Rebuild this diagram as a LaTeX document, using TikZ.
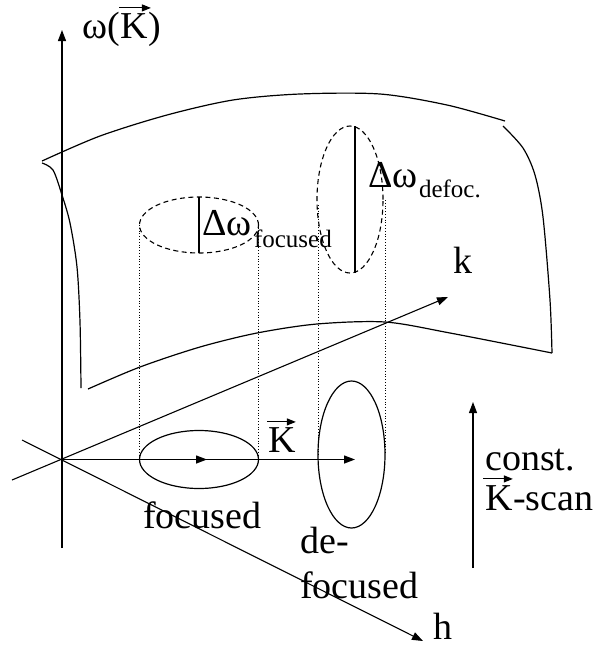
\documentclass[tikz,border=0pt]{standalone}
\usepackage{fontspec}
\setmainfont{Liberation Serif}
\usetikzlibrary{arrows.meta}
\begin{document}
\begin{tikzpicture}[x=1pt,y=-1pt,
  surf/.style={line width=1.2pt},
  axis/.style={line width=1.3pt,-{Triangle[length=11pt,width=8pt]}},
  thinaxis/.style={line width=1.1pt,-{Triangle[length=11pt,width=8pt]}},
  dotline/.style={line width=0.8pt,dotted},
  dashline/.style={line width=1.1pt,dash pattern=on 5pt off 3.5pt},
  solidline/.style={line width=1.2pt},
  lab/.style={anchor=base west,inner sep=0pt,font=\fontsize{38}{40}\selectfont},
  sub/.style={anchor=base west,inner sep=0pt,font=\fontsize{25}{27}\selectfont},
  vec/.style={line width=1.1pt,-{Triangle[length=9pt,width=7pt]}}]
\useasboundingbox[fill=white] (0,0) rectangle (597,649);

% surface
\draw[surf] plot[smooth] coordinates {(42,161) (100,136) (167,115) (233,100) (300,94) (380,94) (447,105) (505,121)};
\draw[surf] plot[smooth] coordinates {(503,126) (523,148) (535,175) (543,217) (550,300) (552,353)};
\draw[surf] plot[smooth] coordinates {(88,389) (140,367) (200,347) (257,333) (317,324) (385,322) (450,333) (552,353)};
\draw[surf] plot[smooth] coordinates {(42,163) (53,170) (62,195) (70,223) (77,267) (80,322) (81,388)};

% axes
\coordinate (O) at (62,459.5);
\coordinate (vb) at (62,548);
\coordinate (vt) at (62,30);
\coordinate (Kend) at (355,459.5);
\coordinate (Kmid) at (207,459.5);
\coordinate (kst) at (12,480);
\coordinate (kend) at (448,297);
\coordinate (hst) at (22,440);
\coordinate (hend) at (423,641);
\draw[axis] (vb) -- (vt);
\draw[axis] (O) -- (Kend);
\draw[axis] (O) -- (Kmid);
\draw[thinaxis] (kst) -- (kend);
\draw[thinaxis] (hst) -- (hend);

% focused cylinder
\draw[solidline] (199,459.5) ellipse [x radius=59.5pt, y radius=29pt];
\draw[dashline] (199,225) ellipse [x radius=59.5pt, y radius=28pt];
\draw[dotline] (139.5,225) -- (139.5,459.5);
\draw[dotline] (258.5,225) -- (258.5,459.5);
\coordinate (wf1) at (199,197);
\coordinate (wf2) at (199,253);
\draw[solidline] (wf1) -- (wf2);

% defocused cylinder
\draw[solidline] (351.5,454.5) ellipse [x radius=33.5pt, y radius=73.5pt];
\draw[dashline] (350,199.5) ellipse [x radius=33pt, y radius=73.5pt];
\draw[dotline] (318,205) -- (318,454.5);
\draw[dotline] (385,200) -- (385,454.5);
\coordinate (wd1) at (355,126);
\coordinate (wd2) at (355,273);
\draw[solidline] (wd1) -- (wd2);

% const K-scan arrow
\coordinate (cs1) at (473,568);
\coordinate (cs2) at (473,402);
\draw[thinaxis] (cs1) -- (cs2);

% labels
\node[lab] (wl) at (82,38.5) {ω(};
\node[lab] (wK) at (wl.base east) {K};
\node[lab] (wr) at (wK.base east) {)};
\draw[vec] ([shift={(-1,-5.5)}]wK.north west) -- ([shift={(3,-5.5)}]wK.north east);

\node[lab] (dwf) at (202,235) {Δω};
\node[sub] (dwfs) at ([shift={(2,12)}]dwf.base east) {focused};

\node[lab] (dwd) at (368,187) {Δω};
\node[sub] (dwds) at ([shift={(1,10)}]dwd.base east) {defoc.};

\node[lab] (kl) at (453,273) {k};
\node[lab] (hl) at (433,639) {h};

\node[lab] (Kax) at (268,452) {K};
\draw[vec] ([shift={(-1,-5)}]Kax.north west) -- ([shift={(0,-5)}]Kax.north east);

\node[lab] (foc) at (143,528) {focused};
\node[lab] (de) at (300,553) {de-};
\node[lab] (defoc) at (300,598) {focused};

\node[lab] (const) at (485,470) {const.};
\node[lab] (Ks) at (485,510) {K};
\node[lab] (scan) at (Ks.base east) {-scan};
\draw[vec] ([shift={(-2,-6)}]Ks.north west) -- ([shift={(0,-6)}]Ks.north east);
\end{tikzpicture}
\end{document}
